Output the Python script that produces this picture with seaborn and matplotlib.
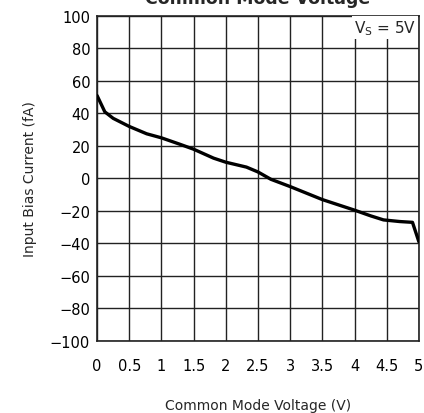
import numpy as np
import pandas as pd
import seaborn as sns
import matplotlib.pyplot as plt

# curve
vcm = [0, 0.12, 0.25, 0.5, 0.77, 1.0, 1.29, 1.5, 1.81, 2.0, 2.32, 2.5, 2.7,
       3.0, 3.5, 4.0, 4.25, 4.45, 4.7, 4.9, 5.0]
ibias = [51, 41, 37, 32, 27.5, 25, 21, 18, 12.5, 10, 7, 4, -0.5,
         -5, -13, -19.5, -23, -25.5, -26.5, -27, -39]
x_ticks = [0, 0.5, 1, 1.5, 2, 2.5, 3, 3.5, 4, 4.5, 5]
x_tick_labels = ['0', '0.5', '1', '1.5', '2', '2.5', '3', '3.5', '4', '4.5', '5']
y_ticks = list(range(-100, 101, 20))

df = pd.DataFrame({'vcm': vcm, 'ibias': ibias})

sns.set_style('white')
plt.rcParams['font.family'] = ['DejaVu Sans']

fig = plt.figure(figsize=(4.24, 4.14), dpi=100)
ax = fig.add_axes([0.229, 0.174, 0.759, 0.785])

sns.lineplot(data=df, x='vcm', y='ibias', color='black', linewidth=2.4, ax=ax, zorder=3)

ax.set_xlim(0, 5)
ax.set_ylim(-100, 100)
ax.set_xticks(x_ticks)
ax.set_xticklabels(x_tick_labels)
ax.set_yticks(y_ticks)
ax.grid(True, color='#222222', linewidth=1.0)
for s in ax.spines.values():
    s.set_color('#222222')
    s.set_linewidth(1.2)
ax.tick_params(axis='y', length=0, labelsize=10.5, pad=5, colors='black')
ax.tick_params(axis='x', length=0, labelsize=10.5, pad=12, colors='black')

ax.set_xlabel('Common Mode Voltage (V)', fontsize=10, labelpad=18)
ax.set_ylabel('Input Bias Current (fA)', fontsize=10, labelpad=9)

ax.text(4.96, 93, 'V$_\\mathregular{S}$ = 5V', ha='right', va='center', fontsize=11,
        bbox=dict(facecolor='white', edgecolor='none', pad=1.5), zorder=4)

fig.text(0.608, 1.003, 'Common Mode Voltage', ha='center', va='center',
         fontsize=12.5, fontweight='bold')

fig.savefig('out.png', dpi=100)
